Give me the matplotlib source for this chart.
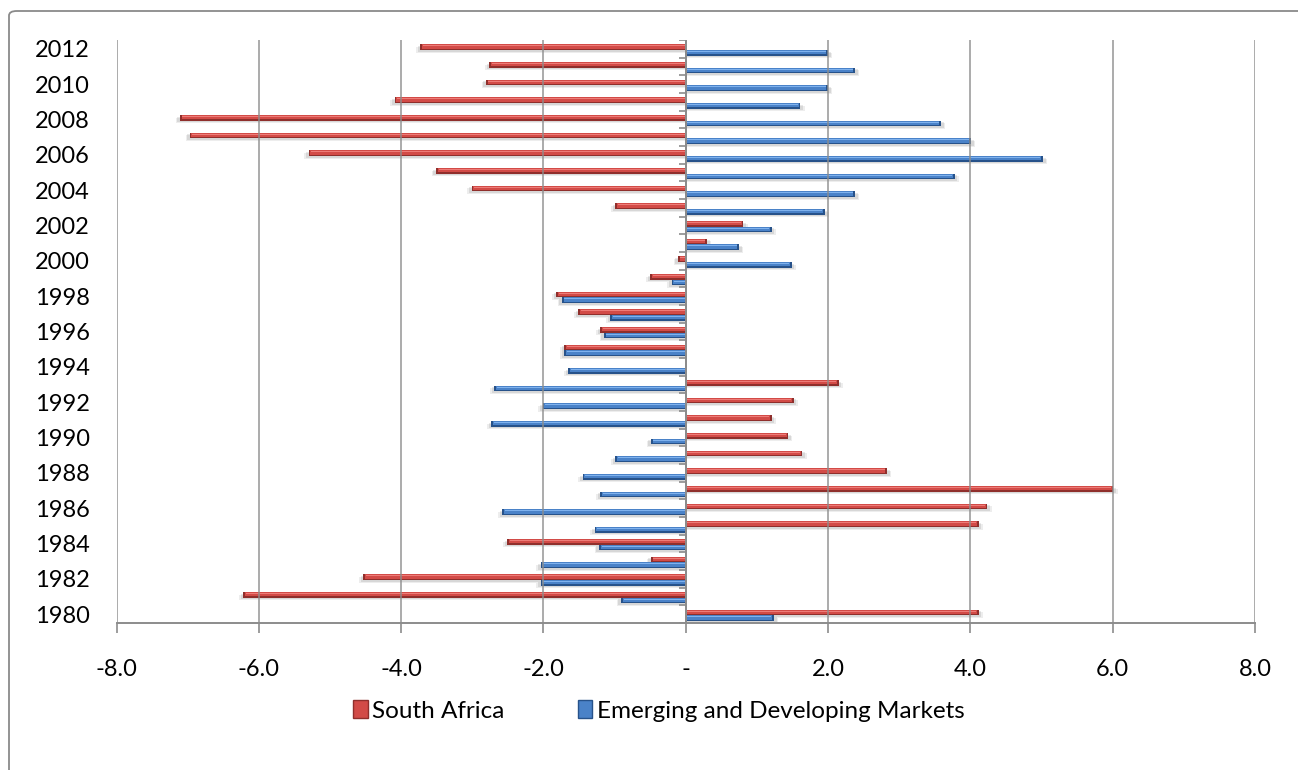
import matplotlib
matplotlib.use("Agg")
import matplotlib.pyplot as plt
from matplotlib.patches import Patch, FancyBboxPatch
import numpy as np

plt.rcParams['font.family'] = ['Lato', 'DejaVu Sans']

years = list(range(1980, 2013))
south_africa = [4.12, -6.22, -4.53, -0.49, -2.51, 4.12, 4.24, 6.01, 2.83, 1.64,
                1.44, 1.21, 1.52, 2.15, 0.0, -1.71, -1.20, -1.51, -1.82, -0.50,
                -0.11, 0.30, 0.81, -0.99, -3.01, -3.51, -5.30, -6.97, -7.11, -4.09,
                -2.81, -2.76, -3.73]
emerging = [1.24, -0.91, -2.04, -2.04, -1.22, -1.28, -2.58, -1.20, -1.45, -0.99,
            -0.49, -2.73, -2.01, -2.69, -1.65, -1.71, -1.15, -1.06, -1.74, -0.20,
            1.49, 0.75, 1.21, 1.95, 2.38, 3.78, 5.02, 4.01, 3.59, 1.61,
            2.00, 2.38, 2.00]
x_ticks = [-8, -6, -4, -2, 0, 2, 4, 6, 8]
x_tick_labels = ['-8.0', '-6.0', '-4.0', '-2.0', '-', '2.0', '4.0', '6.0', '8.0']
series_names = ['South Africa', 'Emerging and Developing Markets']

GRID = '#8c8c8c'
RED = dict(dark='#8f2f2c', mid='#d24b47', light='#ee7c78')
BLUE = dict(dark='#27528a', mid='#4a82c8', light='#7fb2ee')

fig = plt.figure(figsize=(12.98, 7.7), dpi=100)
fig.patch.set_facecolor('white')

# outer chart frame (only its top-left part falls inside the canvas)
frame = FancyBboxPatch((9 / 1298, -0.2), 1.3, 1 - 11 / 770 + 0.2,
                       boxstyle='round,pad=0,rounding_size=0.006',
                       transform=fig.transFigure, facecolor='none',
                       edgecolor='#8a8a8a', linewidth=1.3, zorder=0)
fig.patches.append(frame)

ax = fig.add_axes([116.5 / 1298, 1 - 623 / 770, (1255 - 116.5) / 1298, (623 - 40) / 770])

y = np.arange(len(years))
h = 0.32


def cylinder_bars(ypos, vals, pal):
    vals = np.asarray(vals)
    ext = np.sign(vals) * 0.06
    # soft drop shadow beneath each bar
    ax.barh(ypos - 0.16, vals + ext, height=h, color='black', alpha=0.07,
            linewidth=0, zorder=2)
    ax.barh(ypos - 0.10, vals + ext * 0.6, height=h, color='black', alpha=0.09,
            linewidth=0, zorder=2)
    # cylinder shading: dark base, main body, highlight
    ax.barh(ypos, vals, height=h, color=pal['dark'], linewidth=0, zorder=3)
    ax.barh(ypos + h * 0.10, vals - ext * 0.4, height=h * 0.80, color=pal['mid'],
            linewidth=0, zorder=4)
    ax.barh(ypos + h * 0.22, vals - ext * 0.6, height=h * 0.22, color=pal['light'],
            linewidth=0, zorder=5)


cylinder_bars(y + 0.10, south_africa, RED)
cylinder_bars(y - 0.22, emerging, BLUE)

ax.set_xlim(-8, 8)
ax.set_ylim(-0.5, len(years) - 0.5)

for xv in x_ticks:
    ax.axvline(xv, color=GRID, linewidth=1.2, alpha=0.85, zorder=6)

# category axis along zero with small ticks between years
ax.axvline(0, color=GRID, linewidth=1.4, zorder=7)
bounds = np.arange(len(years) + 1) - 0.5
ax.hlines(bounds, -0.09, 0, color=GRID, linewidth=1.2, zorder=7)

ax.set_xticks(x_ticks)
ax.set_xticklabels(x_tick_labels)
ax.set_yticks(y[::2])
ax.set_yticklabels([str(v) for v in years[::2]])

for s in ['top', 'right', 'left']:
    ax.spines[s].set_visible(False)
ax.spines['bottom'].set_color(GRID)
ax.spines['bottom'].set_linewidth(1.4)
ax.spines['bottom'].set_zorder(8)

ax.tick_params(axis='x', length=7, width=1.2, color=GRID, pad=19, labelsize=17,
               labelcolor='black')
ax.tick_params(axis='y', length=0, pad=19, labelsize=17, labelcolor='black')

handles = [Patch(facecolor=RED['mid'], edgecolor=RED['dark']),
           Patch(facecolor=BLUE['mid'], edgecolor=BLUE['dark'])]
fig.legend(handles, series_names, loc='center', bbox_to_anchor=(659 / 1298, 1 - 711 / 770),
           ncol=2, frameon=False, fontsize=17.5, handlelength=0.6, handleheight=0.75,
           handletextpad=0.2, columnspacing=3.0)

fig.savefig('out.png', dpi=100, facecolor='white')
